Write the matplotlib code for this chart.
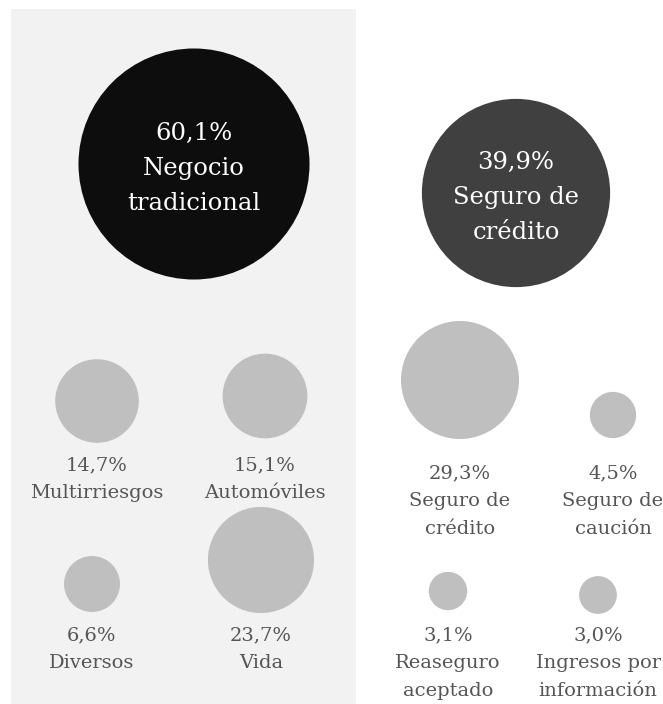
import numpy as np
import matplotlib
matplotlib.use('Agg')
import matplotlib.pyplot as plt
from matplotlib.patches import Circle, Rectangle

plt.rcParams['font.family'] = ['DejaVu Serif']

# datos
top_labels = ["Negocio\ntradicional", "Seguro de\ncrédito"]
top_values = [60.1, 39.9]
left_labels = ["Multirriesgos", "Automóviles", "Diversos", "Vida"]
left_values = [14.7, 15.1, 6.6, 23.7]
right_labels = ["Seguro de\ncrédito", "Seguro de\ncaución", "Reaseguro\naceptado", "Ingresos por\ninformación"]
right_values = [29.3, 4.5, 3.1, 3.0]

# colocacion (pixeles, eje y hacia abajo)
top_pos = [(194, 164), (516, 193)]
top_colors = ['#0d0d0d', '#404040']
left_pos = [(97, 401), (265, 396), (92, 584), (261, 560)]
left_text_y = [470, 470, 640, 640]
right_pos = [(460, 380), (613, 415), (448, 591), (598, 595)]
right_text_y = [478, 478, 640, 640]

k_top = 14.9
k_small = 10.9
gris_bola = '#bfbfbf'
gris_texto = '#555555'


def fmt(v):
    return ("%.1f" % v).replace('.', ',') + "%"


def bola(ax, x, y, v, k, color):
    ax.add_patch(Circle((x, y), k * np.sqrt(v), color=color, lw=0))


def etiqueta(ax, x, y, v, label, step, size, color):
    lineas = [fmt(v)] + label.split("\n")
    for i, t in enumerate(lineas):
        ax.text(x, y + i * step, t, ha='center', va='baseline',
                fontsize=size, color=color)


fig = plt.figure(figsize=(6.63, 7.04), dpi=100)
ax = fig.add_axes([0, 0, 1, 1])
ax.set_xlim(0, 663)
ax.set_ylim(704, 0)
ax.axis('off')

ax.add_patch(Rectangle((11, 9), 345, 700, color='#f2f2f2', lw=0))

for i in range(len(top_values)):
    x, y = top_pos[i]
    bola(ax, x, y, top_values[i], k_top, top_colors[i])
    etiqueta(ax, x, y - 24, top_values[i], top_labels[i], 35, 17.5, 'white')

for i in range(len(left_values)):
    x, y = left_pos[i]
    bola(ax, x, y, left_values[i], k_small, gris_bola)
    etiqueta(ax, x, left_text_y[i], left_values[i], left_labels[i], 28, 14, gris_texto)

for i in range(len(right_values)):
    x, y = right_pos[i]
    bola(ax, x, y, right_values[i], k_small, gris_bola)
    etiqueta(ax, x, right_text_y[i], right_values[i], right_labels[i], 28, 14, gris_texto)

fig.savefig('out.png', dpi=100)
